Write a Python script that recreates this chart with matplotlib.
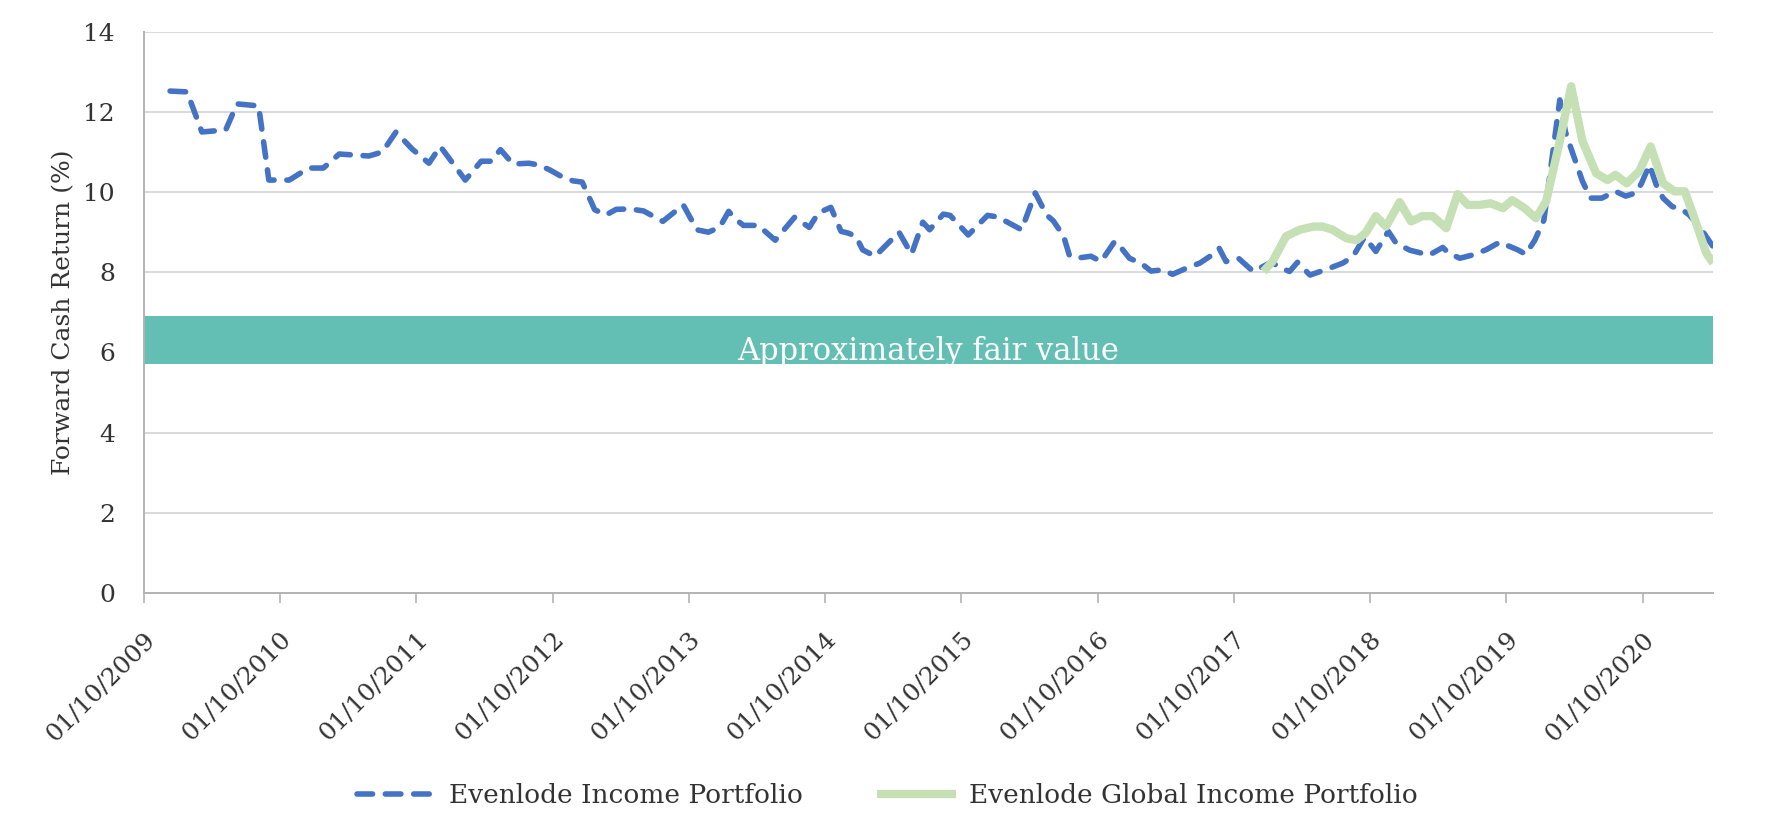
import matplotlib
matplotlib.use("Agg")
import matplotlib.pyplot as plt
from matplotlib.transforms import ScaledTranslation

# months counted from 01/10/2009
income_months = [2.3, 3.8, 5.1, 7.2, 8.2, 10.1, 11.0, 12.8, 14.5, 15.8, 17.2, 19.8, 21.0, 22.2,
                 23.6, 25.1, 26.1, 28.3, 29.2, 29.7, 30.6, 31.4, 32.5, 33.9, 34.7, 35.7, 36.9,
                 37.8, 38.6, 39.7, 40.7, 41.6, 42.8, 44.0, 45.7, 47.5, 48.7, 49.7, 50.7, 51.5,
                 52.0, 52.8, 54.1, 55.6, 57.3, 58.6, 59.4, 60.5, 61.4, 62.0, 62.7, 63.3, 64.4,
                 66.5, 67.6, 68.6, 69.2, 70.4, 71.0, 72.6, 74.3, 75.2, 77.3, 78.5, 79.5, 80.1,
                 81.0, 81.5, 82.1, 83.4, 84.3, 85.5, 86.1, 86.8, 87.8, 88.7, 89.7, 90.6, 91.8,
                 93.0, 93.9, 94.7, 95.3, 96.4, 97.7, 99.3, 100.2, 100.9, 101.6, 102.7, 104.4,
                 105.6, 106.5, 107.5, 108.5, 109.6, 110.3, 111.5, 113.2, 114.4, 114.9, 115.9,
                 117.0, 118.2, 119.4, 121.0, 121.7, 122.5, 123.3, 124.7, 125.2, 125.8, 126.7,
                 127.4, 128.4, 129.6, 130.5, 131.4, 131.9, 132.6, 133.2, 133.8, 134.6, 135.5,
                 136.1, 136.9, 138.2]
income_values = [12.52, 12.5, 11.5, 11.55, 12.2, 12.15, 10.3, 10.3, 10.6, 10.6, 10.95, 10.9, 11.0, 11.5,
                 11.08, 10.72, 11.14, 10.3, 10.6, 10.77, 10.77, 11.06, 10.7, 10.72, 10.68, 10.56, 10.37,
                 10.28, 10.25, 9.56, 9.43, 9.57, 9.58, 9.53, 9.27, 9.68, 9.06, 9.0, 9.12, 9.52,
                 9.35, 9.17, 9.17, 8.8, 9.37, 9.12, 9.48, 9.62, 9.02, 8.98, 8.9, 8.56, 8.4,
                 9.0, 8.45, 9.25, 9.06, 9.45, 9.42, 8.93, 9.42, 9.38, 9.06, 9.98, 9.43, 9.28,
                 8.9, 8.43, 8.35, 8.4, 8.27, 8.77, 8.6, 8.35, 8.23, 8.03, 8.06, 7.95, 8.1,
                 8.23, 8.4, 8.6, 8.27, 8.35, 8.02, 8.25, 8.1, 8.02, 8.25, 7.93, 8.1,
                 8.23, 8.4, 8.88, 8.52, 9.02, 8.72, 8.55, 8.43, 8.62, 8.48, 8.35,
                 8.43, 8.56, 8.75, 8.56, 8.45, 8.8, 9.3, 12.3, 11.5, 11.0, 10.27,
                 9.85, 9.85, 10.02, 9.9, 9.98, 10.22, 10.68, 10.18, 9.85, 9.64, 9.56,
                 9.43, 9.18, 8.64]

global_months = [98.6, 99.4, 100.6, 101.8, 103.0, 103.8, 104.7, 105.9, 106.8, 107.6, 108.5, 109.4,
                 110.6, 111.6, 112.6, 113.5, 114.7, 115.7, 116.6, 117.6, 118.6, 119.7, 120.5,
                 121.6, 122.6, 123.5, 124.7, 125.7, 126.7, 127.9, 128.9, 129.6, 130.6, 131.7,
                 132.7, 133.8, 134.8, 135.7, 136.5, 137.6, 138.2]
global_values = [8.02, 8.27, 8.9, 9.06, 9.14, 9.14, 9.06, 8.85, 8.8, 8.98, 9.4, 9.14,
                 9.75, 9.27, 9.4, 9.4, 9.1, 9.95, 9.68, 9.68, 9.72, 9.6, 9.8,
                 9.6, 9.35, 9.77, 11.27, 12.64, 11.27, 10.47, 10.3, 10.43, 10.22, 10.52,
                 11.14, 10.22, 10.02, 10.02, 9.4, 8.48, 8.23]

tick_months = list(range(0, 133, 12))
tick_labels = ["01/10/%d" % y for y in range(2009, 2021)]
fair_low, fair_high = 5.7, 6.9

plt.rcParams['font.family'] = ['DejaVu Serif']
fig = plt.figure(figsize=(17.75, 8.35), dpi=100)
ax = fig.add_axes([0.0811, 0.2898, 0.884, 0.6722])

ax.axhspan(fair_low, fair_high, color='#63bfb3', zorder=2, lw=0)
ax.text(0.5, 5.8, "Approximately fair value", transform=ax.get_yaxis_transform(),
        ha='center', va='baseline', color='white', fontsize=22, zorder=3)

ax.plot(income_months, income_values, color='#4472c4', lw=4.0, ls=(0, (2.8, 2.3)),
        dash_capstyle='round', label='Evenlode Income Portfolio', zorder=4)
ax.plot(global_months, global_values, color='#c5e0b4', lw=6.0,
        solid_capstyle='butt', label='Evenlode Global Income Portfolio', zorder=5)

ax.set_xlim(0, 138.2)
ax.set_ylim(0, 14)
ax.set_yticks(range(0, 15, 2))
ax.set_xticks(tick_months)
ax.set_xticklabels(tick_labels, rotation=45, ha='right', va='center', rotation_mode='anchor')
ax.grid(axis='y', color='#d9d9d9', lw=1.4, zorder=0)
ax.set_axisbelow(True)
for s in ['top', 'right']:
    ax.spines[s].set_visible(False)
for s in ['left', 'bottom']:
    ax.spines[s].set_color('#b3b3b3')
    ax.spines[s].set_linewidth(1.4)
ax.tick_params(axis='y', length=0, pad=21, labelsize=18, labelcolor='#333333')
ax.tick_params(axis='x', length=7, width=1.2, color='#b3b3b3', pad=24, labelsize=18,
               labelcolor='#333333')
for lab in ax.get_xticklabels():
    lab.set_transform(lab.get_transform() + ScaledTranslation(0.08, 0, fig.dpi_scale_trans))

ax.set_ylabel("Forward Cash Return (%)", fontsize=18, color='#333333', labelpad=6)

fig.legend(loc='center', bbox_to_anchor=(0.5, 0.047), ncol=2, frameon=False, fontsize=19,
           handlelength=3.0, handletextpad=0.5, columnspacing=2.8, labelcolor='#333333')

fig.savefig("out.png", dpi=100)
